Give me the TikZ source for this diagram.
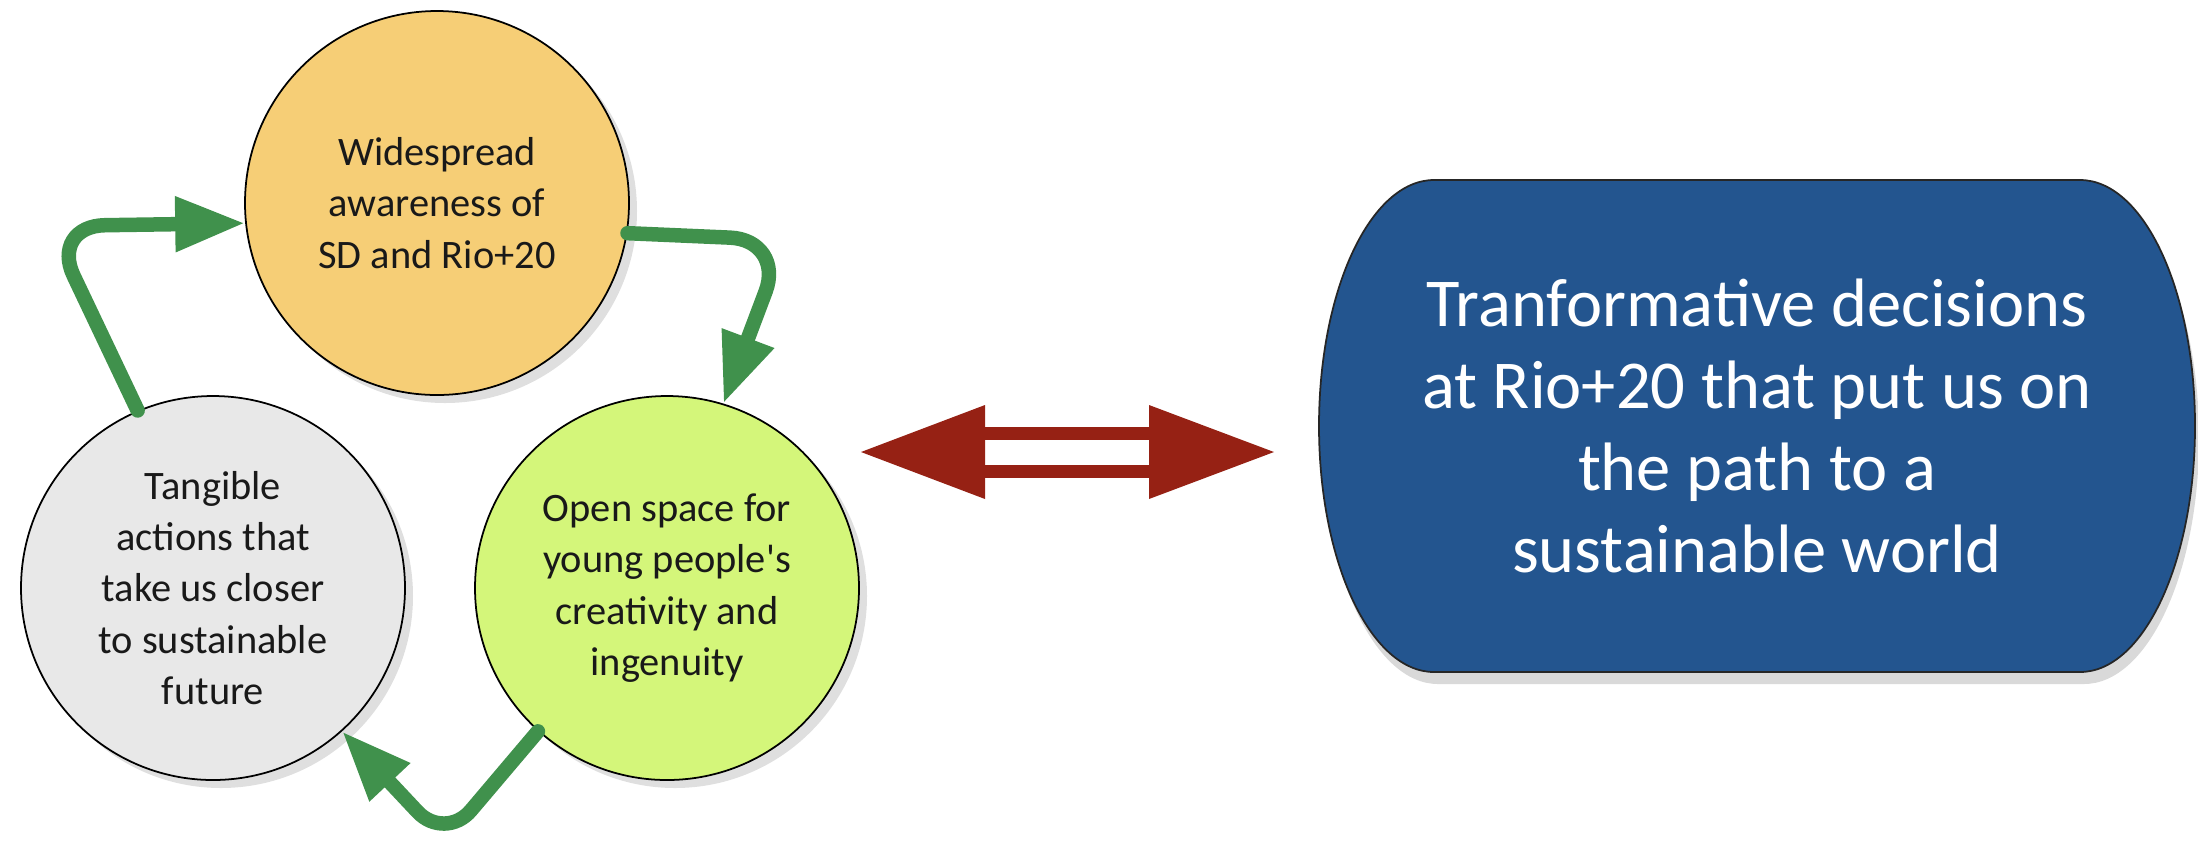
\documentclass[tikz,border=0pt]{standalone}
\usepackage{fontspec}
\setmainfont{Carlito}
\usetikzlibrary{arrows.meta,shadows}
\definecolor{awarecol}{RGB}{246,206,118}
\definecolor{opencol}{RGB}{212,246,122}
\definecolor{actcol}{RGB}{232,232,232}
\definecolor{goalcol}{RGB}{35,85,143}
\definecolor{cyclecol}{RGB}{64,145,76}
\definecolor{linkcol}{RGB}{150,33,20}
\begin{document}
\begin{tikzpicture}
  [x=0.1mm,y=-0.1mm,
   stage/.style={circle, draw=black, line width=0.5pt, minimum size=38.4mm, inner sep=0pt,
     align=center, text=black!90, font=\fontsize{11.5}{14.6}\selectfont,
     drop shadow={opacity=0.25, shadow xshift=0.8mm, shadow yshift=-0.8mm}},
   cyc/.style={draw=cyclecol, line width=1.45mm, line cap=round, rounded corners=5.5mm,
     -{Triangle[length=7mm,width=5.2mm]}}]
  \useasboundingbox (0,0) rectangle (2198,844);

  \node[stage, fill=awarecol] (n0) at (437,203) {Widespread\\awareness of\\SD and Rio+20};
  \node[stage, fill=opencol] (n1) at (667,588) {Open space for\\young people\textquotesingle s\\creativity and\\ingenuity};
  \node[stage, fill=actcol] (n2) at (213,588) {Tangible\\actions that\\take us closer\\to sustainable\\future};

  \draw[cyc] (n0.351) -- (785,240) -- (n1.73);
  \draw[cyc, rounded corners=4mm] (n1.228) -- (445,841) -- (n2.312);
  \draw[cyc] (n2.113) -- (50,226) -- (n0.186);

  % goal box
  \draw[draw=black!85, fill=goalcol, line width=0.5pt,
        drop shadow={opacity=0.3, shadow xshift=0.4mm, shadow yshift=-1.2mm}]
    (1434,180) -- (2080,180)
    arc[start angle=90, end angle=-90, x radius=11.5mm, y radius=24.6mm]
    -- (1434,672)
    arc[start angle=270, end angle=90, x radius=11.5mm, y radius=24.6mm] -- cycle;
  \node[align=center, text=white, font=\fontsize{19.5}{23.3}\selectfont] (goal) at (1757,426)
    {Tranformative decisions\\at Rio+20 that put us on\\the path to a\\sustainable world};

  % link arrow
  \coordinate (l) at (861,452);
  \coordinate (r) at (1274,452);
  \draw[linkcol, line width=1.3mm, double=white, double distance=2.5mm] (985,452) -- (1149,452);
  \fill[linkcol] (l) -- (985,405) -- (985,499) -- cycle;
  \fill[linkcol] (r) -- (1149,405) -- (1149,499) -- cycle;
\end{tikzpicture}
\end{document}
